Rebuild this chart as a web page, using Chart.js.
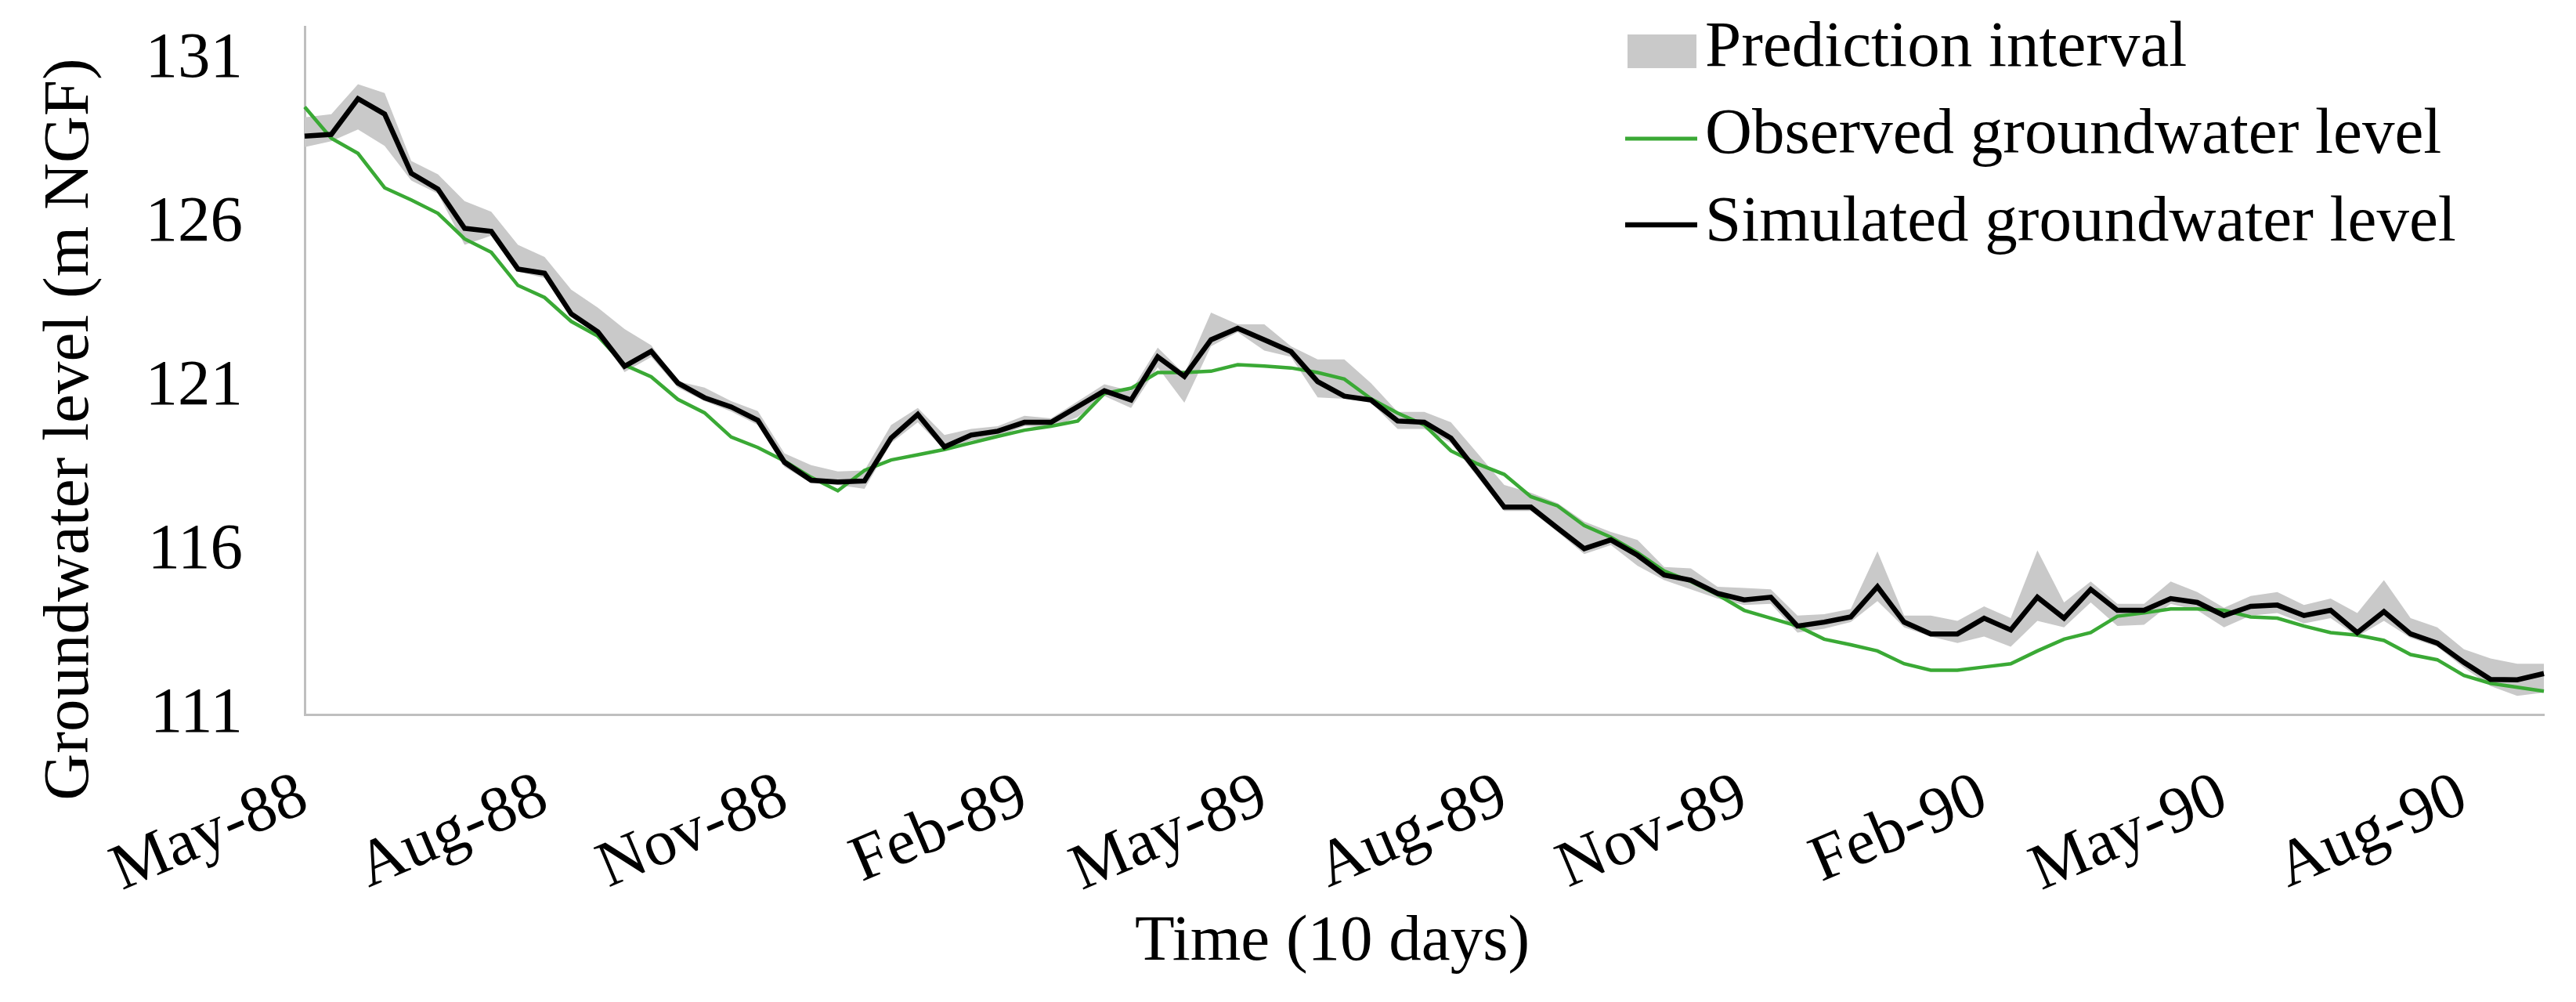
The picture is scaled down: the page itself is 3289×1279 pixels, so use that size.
<!DOCTYPE html>
<html>
<head>
<meta charset="utf-8">
<script src="https://cdn.jsdelivr.net/npm/chart.js@4.4.1/dist/chart.umd.min.js"></script>
<style>
  html, body { margin: 0; padding: 0; background: #fff; }
  #wrap { position: relative; width: 3289px; height: 1279px; }
</style>
</head>
<body>
<div id="wrap"><canvas id="chart" width="3289" height="1279"></canvas></div>
<script>
// values, one per 10-day step from May-88
const simulated = [
  128.66, 128.71, 129.80, 129.33, 127.52, 127.04, 125.84, 125.75, 124.60, 124.47,
  123.23, 122.68, 121.63, 122.09, 121.12, 120.67, 120.39, 119.98, 118.70, 118.15,
  118.10, 118.13, 119.44, 120.16, 119.17, 119.53, 119.65, 119.92, 119.92, 120.40,
  120.88, 120.60, 121.92, 121.32, 122.44, 122.79, 122.44, 122.08, 121.16, 120.72,
  120.60, 119.96, 119.92, 119.44, 118.40, 117.33, 117.33, 116.69, 116.06, 116.33,
  115.86, 115.26, 115.10, 114.70, 114.50, 114.58, 113.70, 113.82, 113.98, 114.90,
  113.82, 113.46, 113.46, 113.94, 113.58, 114.58, 113.94, 114.82, 114.18, 114.18,
  114.54, 114.42, 114.02, 114.30, 114.34, 114.02, 114.18, 113.50, 114.14, 113.46,
  113.18, 112.59, 112.07, 112.06, 112.25
];
const observed = [
  129.55, 128.59, 128.13, 127.08, 126.71, 126.30, 125.52, 125.11, 124.10, 123.73,
  123.00, 122.55, 121.67, 121.31, 120.62, 120.21, 119.47, 119.15, 118.74, 118.24,
  117.83, 118.45, 118.77, 118.93, 119.09, 119.29, 119.49, 119.68, 119.80, 119.96,
  120.80, 120.96, 121.44, 121.44, 121.48, 121.68, 121.64, 121.58, 121.44, 121.24,
  120.64, 120.20, 119.84, 119.05, 118.65, 118.33, 117.65, 117.37, 116.77, 116.41,
  115.94, 115.38, 115.06, 114.66, 114.18, 113.94, 113.70, 113.30, 113.13, 112.94,
  112.55, 112.35, 112.35, 112.45, 112.55, 112.94, 113.30, 113.50, 114.00, 114.10,
  114.22, 114.22, 114.18, 113.98, 113.94, 113.70, 113.50, 113.42, 113.26, 112.83,
  112.67, 112.19, 111.95, 111.83, 111.71
];
const upperBound = [
  129.23, 129.33, 130.24, 129.97, 127.90, 127.49, 126.67, 126.35, 125.34, 124.97,
  123.97, 123.42, 122.77, 122.27, 121.17, 120.98, 120.57, 120.26, 118.97, 118.61,
  118.42, 118.45, 119.84, 120.36, 119.53, 119.72, 119.80, 120.12, 120.04, 120.56,
  121.08, 120.88, 122.20, 121.40, 123.27, 122.91, 122.91, 122.24, 121.84, 121.84,
  121.12, 120.24, 120.24, 119.92, 118.97, 118.01, 117.77, 117.45, 116.89, 116.57,
  116.33, 115.50, 115.46, 114.90, 114.86, 114.82, 114.02, 114.06, 114.22, 115.98,
  114.02, 114.02, 113.86, 114.30, 113.94, 116.01, 114.42, 115.06, 114.38, 114.38,
  115.06, 114.74, 114.26, 114.62, 114.74, 114.34, 114.54, 114.10, 115.10, 113.94,
  113.66, 112.99, 112.71, 112.55, 112.55
];
const lowerBound = [
  128.32, 128.50, 128.86, 128.36, 127.30, 126.90, 125.34, 125.62, 124.52, 124.33,
  123.14, 122.64, 121.45, 121.91, 120.98, 120.57, 120.25, 119.84, 118.56, 118.06,
  118.01, 117.89, 119.29, 119.92, 119.09, 119.36, 119.49, 119.80, 119.76, 120.08,
  120.72, 120.36, 121.60, 120.52, 122.24, 122.67, 122.11, 121.92, 120.68, 120.64,
  120.52, 119.72, 119.72, 119.29, 118.25, 117.21, 117.21, 116.57, 115.90, 116.17,
  115.54, 115.10, 114.82, 114.54, 114.34, 114.38, 113.50, 113.62, 113.82, 114.46,
  113.66, 113.38, 113.18, 113.38, 113.07, 113.86, 113.66, 114.42, 113.70, 113.74,
  114.38, 114.18, 113.66, 114.02, 114.10, 113.78, 113.94, 113.38, 113.86, 113.34,
  113.07, 112.43, 111.87, 111.57, 111.67
];
const tickLabels = ['May-88', 'Aug-88', 'Nov-88', 'Feb-89', 'May-89', 'Aug-89', 'Nov-89', 'Feb-90', 'May-90', 'Aug-90'];
const labelEvery = 9; // one label per quarter = 9 steps of 10 days
const yTicks = [111, 116, 121, 126, 131];
const seriesNames = ['Prediction interval', 'Observed groundwater level', 'Simulated groundwater level'];
const yTitle = 'Groundwater level (m NGF)';
const xTitle = 'Time (10 days)';

// category names: 10-day steps starting at the first dekad of May 1988
const monthNames = ['Jan', 'Feb', 'Mar', 'Apr', 'May', 'Jun', 'Jul', 'Aug', 'Sep', 'Oct', 'Nov', 'Dec'];
const categories = simulated.map((_, i) => {
  const m = 4 + Math.floor(i / 3);
  const yy = String(88 + Math.floor(m / 12));
  return monthNames[m % 12] + '-' + yy + ' d' + (i % 3 + 1);
});

const FONT = "'Liberation Serif', 'Times New Roman', serif";
const FS = 83;
const green = '#3aa935';
const grey = '#c9c9c9';
const axisGrey = '#bfbfbf';

Chart.defaults.font.family = FONT;
Chart.defaults.color = '#000';

// the scales should not push the plot area in
const noScalePadding = (s) => {
  s.paddingTop = 0;
  s.paddingBottom = 0;
  s.paddingLeft = 0;
  s.paddingRight = 0;
};

// axis titles placed like in the figure (not centred on the plot area)
const axisTitles = {
  id: 'axisTitles',
  afterDraw(chart) {
    const ctx = chart.ctx;
    ctx.save();
    ctx.fillStyle = '#000';
    ctx.font = FS + 'px ' + FONT;
    ctx.textAlign = 'center';
    ctx.textBaseline = 'middle';
    ctx.fillText(xTitle, 1701, 1203);
    ctx.translate(90, 548);
    ctx.rotate(-Math.PI / 2);
    ctx.fillText(yTitle, 0, 0);
    ctx.restore();
  }
};

// legend drawn inside the plot, top right
const insideLegend = {
  id: 'insideLegend',
  afterDraw(chart) {
    const ctx = chart.ctx;
    const textRows = [62, 173, 285];
    const sx = 2075, sw = 92, tx = 2177;
    ctx.save();
    ctx.fillStyle = grey;
    ctx.fillRect(2078, 44, 88, 43);
    const lines = [[green, 5, 177], ['#000', 6.5, 287]];
    lines.forEach(([c, w, y]) => {
      ctx.strokeStyle = c;
      ctx.lineWidth = w;
      ctx.beginPath();
      ctx.moveTo(sx, y);
      ctx.lineTo(sx + sw, y);
      ctx.stroke();
    });
    ctx.font = FS + 'px ' + FONT;
    ctx.textAlign = 'left';
    ctx.textBaseline = 'middle';
    ctx.fillStyle = '#000';
    seriesNames.forEach((name, k) => ctx.fillText(name, tx, textRows[k]));
    ctx.restore();
  }
};

new Chart(document.getElementById('chart'), {
  type: 'line',
  data: {
    labels: categories,
    datasets: [
      {
        label: seriesNames[2],
        data: simulated,
        borderColor: '#000',
        borderWidth: 6.5,
        pointRadius: 0,
        tension: 0,
        fill: false
      },
      {
        label: seriesNames[1],
        data: observed,
        borderColor: green,
        borderWidth: 4.5,
        pointRadius: 0,
        tension: 0,
        fill: false
      },
      {
        label: seriesNames[0],
        data: upperBound,
        borderColor: 'rgba(0,0,0,0)',
        borderWidth: 0,
        backgroundColor: grey,
        pointRadius: 0,
        tension: 0,
        fill: '+1'
      },
      {
        label: 'lower',
        data: lowerBound,
        borderColor: 'rgba(0,0,0,0)',
        borderWidth: 0,
        pointRadius: 0,
        tension: 0,
        fill: false
      }
    ]
  },
  options: {
    responsive: false,
    animation: false,
    devicePixelRatio: 1,
    layout: {
      autoPadding: false,
      padding: { top: 34, right: 41, left: 0, bottom: 0 }
    },
    plugins: {
      legend: { display: false },
      tooltip: { enabled: false }
    },
    scales: {
      x: {
        afterFit: (s) => { s.height = 367; noScalePadding(s); },
        grid: { display: false, drawTicks: false },
        border: { display: true, color: axisGrey, width: 3 },
        ticks: {
          autoSkip: false,
          minRotation: 23,
          maxRotation: 23,
          padding: 56,
          color: '#000',
          font: { size: FS },
          callback: (v, i) => (i % labelEvery === 0 ? tickLabels[i / labelEvery] : '')
        }
      },
      y: {
        min: 111,
        max: 132,
        afterFit: (s) => { s.width = 389; noScalePadding(s); },
        afterBuildTicks: (s) => { s.ticks = yTicks.map((v) => ({ value: v })); },
        grid: { display: false, drawTicks: false },
        border: { display: true, color: axisGrey, width: 3 },
        ticks: {
          padding: 79,
          color: '#000',
          font: { size: FS, lineHeight: 1 }
        }
      }
    }
  },
  plugins: [axisTitles, insideLegend]
});
</script>
</body>
</html>
